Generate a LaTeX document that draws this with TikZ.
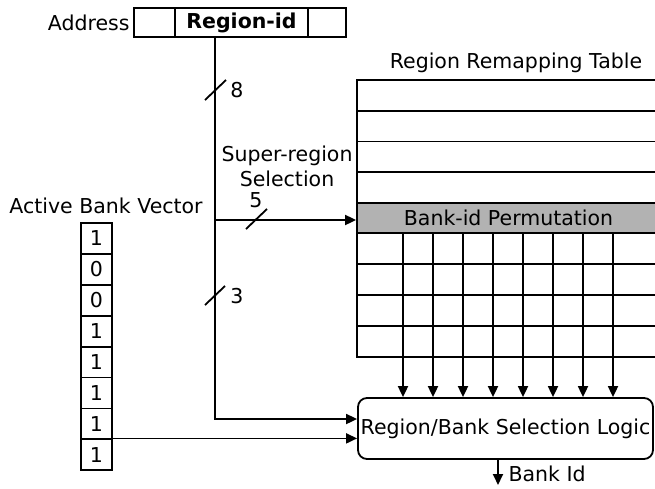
\documentclass[tikz,border=0pt]{standalone}
\usepackage{fontspec}
\setmainfont{DejaVu Sans}
\usetikzlibrary{arrows.meta}
\usetikzlibrary{positioning}

\tikzset{
  cell/.style={rectangle, draw, line width=1.8pt, inner sep=0pt, minimum height=29pt},
  bit/.style={rectangle, draw, line width=1.8pt, inner sep=0pt, minimum width=31pt, minimum height=30.9pt},
  trow/.style={rectangle, draw, line width=1.8pt, inner sep=0pt, minimum width=303pt, minimum height=30.75pt},
  bus/.style={line width=1.8pt},
  wire/.style={line width=1.8pt, -{Triangle[length=11pt,width=10pt]}},
}

\begin{document}
\begin{tikzpicture}[x=1pt, y=-1pt, font=\fontsize{20.5}{25}\selectfont]
				\useasboundingbox (0,0) rectangle (655,488);

				% address word
				\node[anchor=east] (addr) at (133,23) {Address};
				\node[cell, minimum width=41pt] (f1) at (154.5,22.5) {};
				\node[cell, minimum width=133pt, font=\fontsize{20.5}{25}\selectfont\bfseries] (rid) at (241.5,22.5) {Region-id};
				\node[cell, minimum width=38pt] (f3) at (327,22.5) {};

				% remapping table
				\node (ttl) at (516,63) {Region Remapping Table};
				\foreach \i/\y in {0/95.4,1/126.1,2/156.9,3/187.6}
					\node[trow] (t\i) at (508.5,\y) {};
				\node[trow, fill=gray!60, minimum height=30pt] (perm) at (508.5,218) {Bank-id Permutation};
				\foreach \i/\y in {0/248.5,1/279.5,2/310.5,3/341.5}
					\node[trow, minimum height=31pt] (g\i) at (508.5,\y) {};

				\node[draw, line width=1.8pt, rounded corners=9pt, inner sep=2pt, minimum width=295pt, minimum height=61pt] (logic) at (505.5,428.5) {Region/Bank Selection Logic};

				\foreach \k/\x in {1/403,2/433,3/463,4/493,5/523,6/553,7/583,8/613} {
					\coordinate (c\k) at (\x,357);
					\draw[bus]  (c\k |- perm.south) -- (c\k);
					\draw[wire] (c\k) -- (c\k |- logic.north);
				}

				% region-id bus
				\coordinate (split) at (215,220);
				\coordinate (join) at (215,419);
				\draw[wire] (rid.south -| split) |- (logic.west |- join);
				\draw[wire] (split) -- (split -| perm.west);

				\draw[bus] (205,100) -- (226,80);
				\node (n8) at (237,90) {8};
				\draw[bus] (246,229) -- (267,209);
				\node (n5) at (256,200) {5};
				\draw[bus] (205,305) -- (225,286);
				\node (n3) at (237,296) {3};
				\node[align=center] (sup) at (287,166) {Super-region\\Selection};

				% active bank vector
				\node (abv) at (106,206) {Active Bank Vector};
				\foreach \b [count=\i] in {1,0,0,1,1,1,1,1}
					\node[bit] (v\i) at (96.5,207.55+30.9*\i) {\b};
				\draw[wire] (v8.north east) -- (v8.north east -| logic.west);

				% output
				\coordinate (out) at (498,485);
				\draw[wire] (logic.south -| out) -- (out);
				\node[anchor=west] (bid) at (505,474) {Bank Id};
			\end{tikzpicture}
\end{document}
